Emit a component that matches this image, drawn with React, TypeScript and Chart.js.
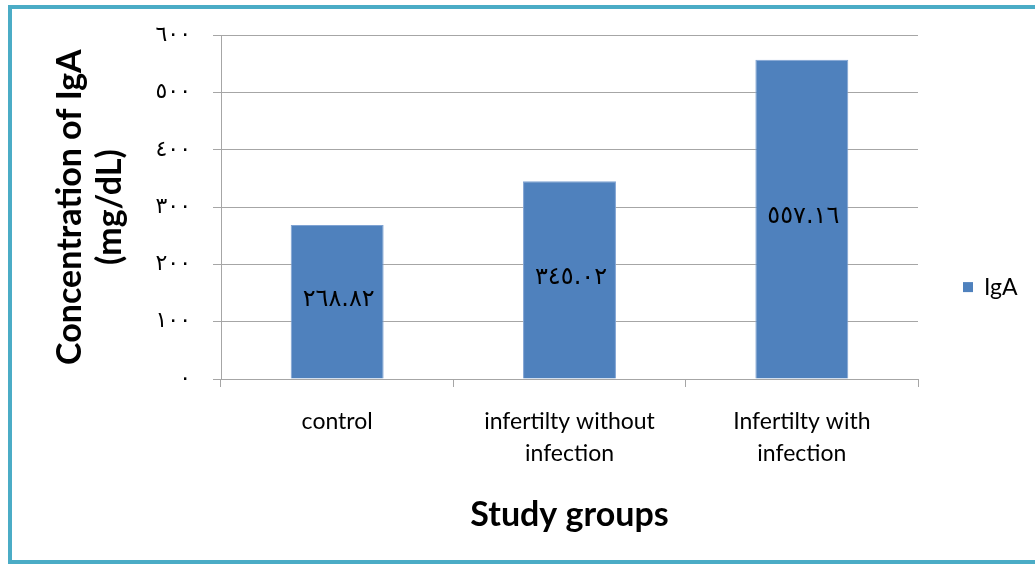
import React, { useEffect, useRef } from "react";
import { Chart, registerables } from "chart.js";

Chart.register(...registerables);

const categories: string[][] = [["control"], ["infertilty without", "infection"], ["Infertilty with", "infection"]];
const seriesLabel = "IgA";
const igaValues: number[] = [268.82, 345.02, 557.16];
const yTicks: number[] = [0, 100, 200, 300, 400, 500, 600];

const BAR_COLOR = "#4F81BD";
const GRID = "#A6A6A6";

const AR_DIGITS = "٠١٢٣٤٥٦٧٨٩";
function toArabic(v: number | string): string {
  return String(v).replace(/[0-9]/g, (d) => AR_DIGITS[Number(d)]);
}

const framePlugin = {
  id: "frame",
  beforeDraw(chart: any) {
    const ctx = chart.ctx;
    ctx.save();
    ctx.fillStyle = "#ffffff";
    ctx.fillRect(0, 0, chart.width, chart.height);
    ctx.strokeStyle = "#4BACC6";
    ctx.lineWidth = 4;
    ctx.strokeRect(10, 7, chart.width + 20, 555);
    ctx.restore();
  },
};

const valueLabelPlugin = {
  id: "valueLabels",
  afterDatasetsDraw(chart: any) {
    const ctx = chart.ctx;
    const meta = chart.getDatasetMeta(0);
    const data = chart.data.datasets[0].data as number[];
    ctx.save();
    ctx.fillStyle = "#000000";
    ctx.font = "24px 'DejaVu Sans'";
    (ctx as any).letterSpacing = "3px";
    ctx.textAlign = "center";
    ctx.textBaseline = "middle";
    meta.data.forEach((bar: any, i: number) => {
      const mid = (bar.y + bar.base) / 2;
      ctx.fillText(toArabic(data[i].toFixed(2)), bar.x + 1.5, mid - 2);
    });
    ctx.restore();
  },
};

const legendPlugin = {
  id: "sideLegend",
  afterDraw(chart: any) {
    const ctx = chart.ctx;
    const ds = chart.data.datasets[0];
    const area = chart.chartArea;
    const cy = (area.top + area.bottom) / 2 + 80;
    ctx.save();
    ctx.fillStyle = ds.backgroundColor;
    ctx.fillRect(963, cy - 5, 10, 10);
    ctx.fillStyle = "#000000";
    ctx.font = "23px Lato";
    ctx.textAlign = "left";
    ctx.textBaseline = "middle";
    ctx.fillText(ds.label, 984, cy);
    ctx.restore();
  },
};

export default function App() {
  const ref = useRef<HTMLCanvasElement | null>(null);

  useEffect(() => {
    document.body.style.margin = "0";
    document.body.style.overflow = "hidden";
    if (!ref.current) return;
    const chart = new Chart(ref.current, {
      type: "bar",
      data: {
        labels: categories,
        datasets: [
          {
            label: seriesLabel,
            data: igaValues,
            backgroundColor: BAR_COLOR,
            borderColor: "#7FA3D3",
            borderWidth: 1,
            barPercentage: 0.4,
            categoryPercentage: 1,
          },
        ],
      },
      options: {
        animation: false,
        responsive: false,
        layout: { padding: { top: 33, left: 20, right: 117, bottom: 20 } },
        plugins: {
          legend: { display: false },
          tooltip: { enabled: false },
        },
        scales: {
          x: {
            afterFit: (s: any) => {
              s.height = 168;
            },
            grid: {
              offset: true,
              drawOnChartArea: false,
              drawTicks: true,
              tickLength: 8,
              color: GRID,
            },
            border: { display: true, color: GRID, width: 1 },
            ticks: {
              color: "#000000",
              font: { family: "Lato", size: 23, lineHeight: 1.38 },
              padding: 19,
              maxRotation: 0,
            },
            title: {
              display: true,
              text: "Study groups",
              color: "#000000",
              font: { family: "Lato", size: 34, weight: "bold", lineHeight: 1.2 },
              padding: { top: 0, bottom: 12 },
            },
          },
          y: {
            min: 0,
            max: 600,
            afterFit: (s: any) => {
              s.width = 201;
            },
            afterBuildTicks: (s: any) => {
              s.ticks = yTicks.map((v) => ({ value: v }));
            },
            grid: {
              color: GRID,
              drawTicks: true,
              tickLength: 8,
            },
            border: { display: true, color: GRID, width: 1 },
            ticks: {
              color: "#000000",
              font: { family: "DejaVu Sans", size: 22 },
              padding: 22,
              callback: (v: any) => toArabic(v),
            },
            title: {
              display: true,
              text: ["Concentration of IgA", "(mg/dL)"],
              color: "#000000",
              font: { family: "Lato", size: 34, weight: "bold", lineHeight: 1.18 },
              padding: { top: 30, bottom: 0 },
            },
          },
        },
      },
      plugins: [framePlugin, valueLabelPlugin, legendPlugin],
    });
    return () => chart.destroy();
  }, []);

  return (
    <div style={{ position: "absolute", left: 0, top: 0, width: 1035, height: 567 }}>
      <canvas ref={ref} width={1035} height={567} />
    </div>
  );
}
